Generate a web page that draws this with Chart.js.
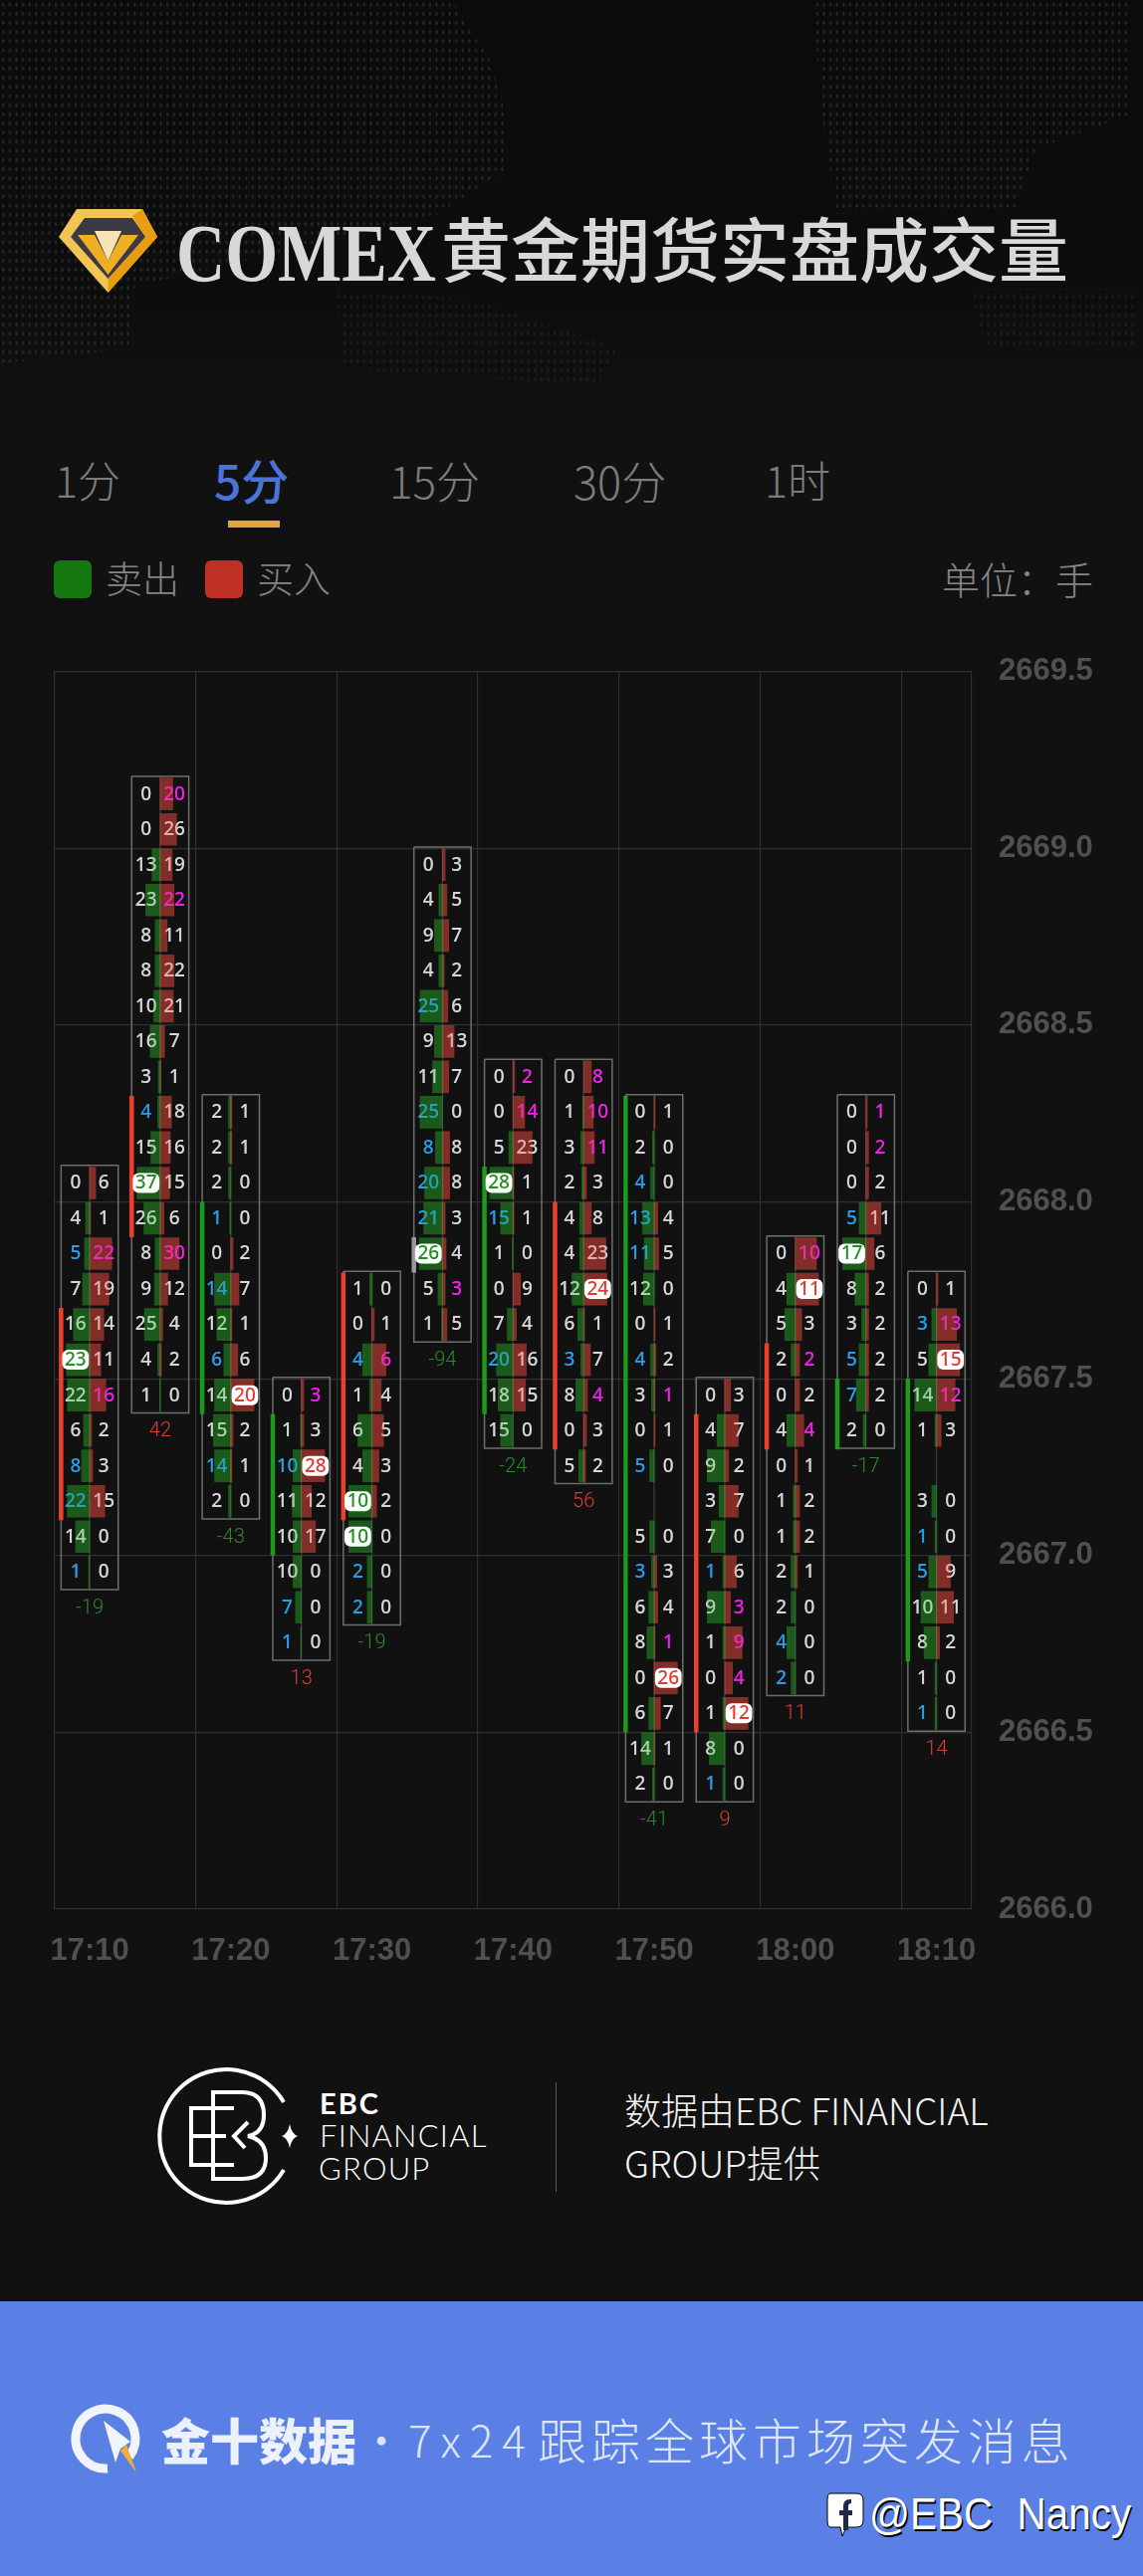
<!DOCTYPE html>
<html lang="zh">
<head>
<meta charset="utf-8">
<title>COMEX黄金期货实盘成交量</title>
<script src="https://cdn.jsdelivr.net/npm/chart.js@4/dist/chart.umd.min.js"></script>
<style>
html,body{margin:0;padding:0;background:#111;}
#page{position:relative;width:1148px;height:2588px;overflow:hidden;background:#111;font-family:"Noto Sans CJK SC","Noto Sans",sans-serif;}
#page>*{position:absolute;}
.t{white-space:nowrap;line-height:1;}
#topShade{left:0;top:0;width:1148px;height:420px;background:linear-gradient(#0b0b0b 0,#0d0d0d 300px,#111 415px);}
.dots{left:0;top:0;width:1148px;height:420px;background-image:radial-gradient(ellipse 1.3px 2.6px at 50% 50%,#383838 0,#2e2e2e 60%,transparent 100%);background-size:6.6px 9.2px;}
#chart{left:0;top:629px;}
</style>
</head>
<body>
<div id="page">
  <div id="topShade"></div>
  <div class="dots" style="clip-path:polygon(0 0,455px 0,492px 60px,505px 100px,510px 170px,440px 215px,130px 290px,130px 350px,0 365px);opacity:.8"></div>
  <div class="dots" style="clip-path:polygon(816px 0,1135px 0,1135px 115px,1040px 150px,1020px 210px,840px 215px,825px 110px);opacity:.8"></div>
  <div class="dots" style="clip-path:polygon(337px 290px,470px 300px,622px 350px,600px 388px,345px 370px);opacity:.45"></div>
  <div class="dots" style="clip-path:polygon(974px 290px,1142px 290px,1142px 350px,990px 350px);opacity:.45"></div>

  <svg style="left:0;top:0" width="200" height="320" viewBox="0 0 200 320">
    <polygon points="77,210 143,210 158,238 108.5,294 59,238" fill="#f2c453"/>
    <polygon points="143,210 158,238 108.5,294 108.5,280 146,238 133,217" fill="#e79c12"/>
    <polygon points="85,219 133,219 146,238 108.5,280 71,238" fill="#3a3a44"/>
    <polygon points="78,236 95,236 108.5,262 122,236 139,236 108.5,276" fill="#f0ae25"/>
    <polygon points="95,232 122,232 108.5,262" fill="#f7e3b4"/>
  </svg>
  <div class="t" style="left:177px;top:213px;font:700 83px/1 'Liberation Serif',serif;color:#d8d8d8;transform-origin:0 0;transform:scaleX(.82)">COMEX</div>
  <div class="t" style="left:443px;top:213px;font-size:70px;font-weight:500;color:#d8d8d8;">黄金期货实盘成交量</div>

  <div class="t" style="left:55px;top:460px;font-size:43px;font-weight:300;color:#7c7c7c">1分</div>
  <div class="t" style="left:215px;top:457px;font-size:48px;font-weight:500;color:#4a74d8">5分</div>
  <div class="t" style="left:391px;top:460px;font-size:44px;font-weight:300;color:#7c7c7c">15分</div>
  <div class="t" style="left:576px;top:460px;font-size:45px;font-weight:300;color:#7c7c7c">30分</div>
  <div class="t" style="left:768px;top:460px;font-size:43px;font-weight:300;color:#7c7c7c">1时</div>
  <div style="left:229px;top:523px;width:52px;height:7px;background:#e2a63c"></div>

  <div style="left:54px;top:563px;width:38px;height:38px;border-radius:6px;background:#14780f"></div>
  <div class="t" style="left:106px;top:562px;font-size:37px;font-weight:300;color:#858585">卖出</div>
  <div style="left:206px;top:563px;width:38px;height:38px;border-radius:6px;background:#bf3125"></div>
  <div class="t" style="left:258px;top:562px;font-size:37px;font-weight:300;color:#858585">买入</div>
  <div class="t" style="left:946px;top:562px;font-size:38px;font-weight:300;color:#858585">单位：手</div>

  <canvas id="chart" width="1148" height="1371"></canvas>

  <svg style="left:3px;top:2060px" width="320" height="170" viewBox="0 2060 320 170" fill="none" stroke="#fff" stroke-width="4">
    <path d="M282 2112 A67 67 0 1 0 282 2180"/>
    <path d="M232 2118 H189 V2175 H232"/>
    <path d="M189 2146 H224"/>
    <path d="M211 2102 H240 Q262 2102 262 2125 Q262 2143 246 2146 Q264 2150 264 2168 Q264 2189 240 2189 H211 Z"/>
    <path d="M246 2132 L232 2146 L243 2158"/>
    <path d="M288 2134 Q290 2144 296 2146 Q290 2148 288 2158 Q286 2148 280 2146 Q286 2144 288 2134 Z" fill="#fff" stroke="none"/>
  </svg>
  <div class="t" style="left:321px;top:2098px;font:700 29px/1 'Lato',sans-serif;color:#fff;letter-spacing:2px">EBC</div>
  <div class="t" style="left:321px;top:2130px;font:300 31px/1 'Lato',sans-serif;color:#fff;letter-spacing:1.2px">FINANCIAL</div>
  <div class="t" style="left:320px;top:2163px;font:300 31px/1 'Lato',sans-serif;color:#fff;letter-spacing:1.2px">GROUP</div>
  <div style="left:558px;top:2092px;width:1px;height:110px;background:#5a5a5a"></div>
  <div class="t" style="left:627px;top:2101px;font-size:37px;font-weight:300;color:#f2f2f2">数据由EBC FINANCIAL</div>
  <div class="t" style="left:627px;top:2154px;font-size:37px;font-weight:300;color:#f2f2f2">GROUP提供</div>

  <div style="left:0;top:2312px;width:1148px;height:276px;background:#5a80e6"></div>
  <svg style="left:60px;top:2405px" width="90" height="90" viewBox="60 2405 90 90">
    <path d="M130 2468 A30 30 0 1 0 108 2480" fill="none" stroke="#f2f4fb" stroke-width="9"/>
    <polygon points="104,2432 131,2453 121,2460 116,2474" fill="#f2f4fb"/>
    <polygon points="121,2462 127,2456 137,2484" fill="#efb13a"/>
  </svg>
  <div class="t" style="left:162px;top:2425px;font-size:49px;font-weight:900;color:#edf1fc">金十数据</div>
  <div class="t" style="left:360px;top:2426px;font-size:46px;font-weight:300;color:#dde5fa">·</div>
  <div class="t" style="left:410px;top:2428px;font-size:44px;font-weight:300;color:#dde5fa;letter-spacing:9px">7x24</div>
  <div class="t" id="tag" style="left:540px;top:2425px;width:535px;display:flex;justify-content:space-between;font-size:49px;font-weight:300;color:#dde5fa"><span>跟</span><span>踪</span><span>全</span><span>球</span><span>市</span><span>场</span><span>突</span><span>发</span><span>消</span><span>息</span></div>

  <svg style="left:826px;top:2500px" width="46" height="54" viewBox="0 0 46 54">
    <path d="M8 5 H34 Q41 5 41 12 V32 Q41 39 34 39 H24 L20 48 L18 39 H8 Q5 39 5 32 V12 Q5 5 8 5 Z" fill="#fff" stroke="#000" stroke-width="1"/>
    <path d="M29 11 Q21 10 21 18 V22 H17 V27 H21 V42 H26 V27 H30 V22 H26 V18 Q26 15 29 15 Z" fill="#1d2a4a"/>
  </svg>
  <div class="t" style="left:873px;top:2504px;font:400 44px/1 'Liberation Sans',sans-serif;color:#fff;text-shadow:1.5px 1.5px 0 #000;word-spacing:14px;transform-origin:0 0;transform:scaleX(.92)">@EBC Nancy</div>
</div>

<script>
// ---- Chart values ----
const categories = ["17:10","17:15","17:20","17:25","17:30","17:35","17:40","17:45","17:50","17:55","18:00","18:05","18:10"];
const priceTicks = { min: 2666, max: 2669.5, step: 0.5 };
const rowStep = 0.1;

// price at the top edge of each candle's highest row
const topPrice = [2668.1,2669.2,2668.3,2667.5,2667.8,2669.0,2668.4,2668.4,2668.3,2667.5,2667.9,2668.3,2667.8];

// sell / buy volume per row, top row first (null = empty row)
const sell1710 = [0,4,5,7,16,23,22,6,8,22,14,1];
const buy1710  = [6,1,22,19,14,11,16,2,3,15,0,0];
const sell1715 = [0,0,13,23,8,8,10,16,3,4,15,37,26,8,9,25,4,1];
const buy1715  = [20,26,19,22,11,22,21,7,1,18,16,15,6,30,12,4,2,0];
const sell1720 = [2,2,2,1,0,14,12,6,14,15,14,2];
const buy1720  = [1,1,0,0,2,7,1,6,20,2,1,0];
const sell1725 = [0,1,10,11,10,10,7,1];
const buy1725  = [3,3,28,12,17,0,0,0];
const sell1730 = [1,0,4,1,6,4,10,10,2,2];
const buy1730  = [0,1,6,4,5,3,2,0,0,0];
const sell1735 = [0,4,9,4,25,9,11,25,8,20,21,26,5,1];
const buy1735  = [3,5,7,2,6,13,7,0,8,8,3,4,3,5];
const sell1740 = [0,0,5,28,15,1,0,7,20,18,15];
const buy1740  = [2,14,23,1,1,0,9,4,16,15,0];
const sell1745 = [0,1,3,2,4,4,12,6,3,8,0,5];
const buy1745  = [8,10,11,3,8,23,24,1,7,4,3,2];
const sell1750 = [0,2,4,13,11,12,0,4,3,0,5,null,5,3,6,8,0,6,14,2];
const buy1750  = [1,0,0,4,5,0,1,2,1,1,0,null,0,3,4,1,26,7,1,0];
const sell1755 = [0,4,9,3,7,1,9,1,0,1,8,1];
const buy1755  = [3,7,2,7,0,6,3,9,4,12,0,0];
const sell1800 = [0,4,5,2,0,4,0,1,1,2,2,4,2];
const buy1800  = [10,11,3,2,2,4,1,2,2,1,0,0,0];
const sell1805 = [0,0,0,5,17,8,3,5,7,2];
const buy1805  = [1,2,2,11,6,2,2,2,2,0];
const sell1810 = [0,3,5,14,1,null,3,1,5,10,8,1,1];
const buy1810  = [1,13,15,12,3,null,0,0,9,11,2,0,0];

const sellRows = [sell1710,sell1715,sell1720,sell1725,sell1730,sell1735,sell1740,sell1745,sell1750,sell1755,sell1800,sell1805,sell1810];
const buyRows  = [buy1710,buy1715,buy1720,buy1725,buy1730,buy1735,buy1740,buy1745,buy1750,buy1755,buy1800,buy1805,buy1810];

// row indexes of the coloured numbers
const sellBlue   = [[2,8,9,11],[9],[3,5,7,10],[2,6,7],[2,8,9],[4,7,8,9,10],[4,8],[8],[2,3,4,7,10,13],[5,11],[11,12],[3,7,8],[1,7,8,12]];
const buyMagenta = [[2,6],[0,3,13],[],[0],[2],[12],[0,1],[0,1,2,9],[8,15],[6,7,8],[0,3,5],[0,1],[1,3]];
const sellBadge  = [[5],[11],[],[],[6,7],[11],[3],[],[],[],[],[4],[]];
const buyBadge   = [[],[],[8],[2],[],[],[],[6],[16],[9],[1],[],[2]];

// candle body (open/close range on the left edge of the box); direction 1 up, -1 down, 0 flat
const bodyHigh = [2667.7,2668.3,2668.0,2667.4,2667.8,2667.9,2668.1,2668.0,2668.3,2667.4,2667.6,2667.5,2667.5];
const bodyLow  = [2667.1,2667.9,2667.4,2667.0,2667.1,2667.8,2667.4,2667.3,2666.5,2666.5,2667.3,2667.3,2666.7];
const bodyDir  = [1,1,-1,-1,1,0,-1,1,-1,1,1,-1,-1];
const delta    = [-19,42,-43,13,-19,-94,-24,56,-41,9,11,-17,14];

// ---- Styling ----
const UP='#ee3f2d', DOWN='#1c9a1c', FLAT='#9a9a9a';
const NUDGE=0.0035;               // the reference drew its rows slightly above the grid
const HALF_BOX=0.405, COL=0.2, MAX_BAR=0.329, ACCENT_X=0.405;
const sellBarColor='rgba(40,180,40,.45)', buyBarColor='rgba(243,73,63,.5)';
const rowFont="500 19px 'Noto Sans', sans-serif", badgeFont="500 19px 'Noto Sans', sans-serif", deltaFont='300 20px Roboto, sans-serif';

function bars(side){
  const out=[];
  sellRows.forEach((col,i)=>{
    const maxV=Math.max(...col.filter(v=>v!=null),...buyRows[i].filter(v=>v!=null));
    const src = side==='sell'?col:buyRows[i];
    src.forEach((v,r)=>{
      if(!v) return;
      const w=v/maxV*MAX_BAR, y=topPrice[i]-rowStep*(r+.5)+NUDGE;
      out.push({x: side==='sell'?[i-w,i]:[i,i+w], y});
    });
  });
  return out;
}
const lineDs=(data,color,width,order)=>({type:'line',data,borderColor:color,borderWidth:width,pointRadius:0,
  order,xAxisID:'x',yAxisID:'y',tension:0,fill:false,borderCapStyle:'butt',borderJoinStyle:'miter',parsing:{xAxisKey:'x',yAxisKey:'y'}});

const datasets=[];
categories.forEach((_,i)=>{
  const hi=topPrice[i]+NUDGE, lo=topPrice[i]-rowStep*sellRows[i].length+NUDGE;
  datasets.push(lineDs([{x:i,y:hi},{x:i,y:lo}],'#383838',1.5,5));
  datasets.push(lineDs([{x:i-HALF_BOX,y:hi},{x:i+HALF_BOX,y:hi},{x:i+HALF_BOX,y:lo},{x:i-HALF_BOX,y:lo},{x:i-HALF_BOX,y:hi}],'#6e6e6e',1.5,4));
  const col=bodyDir[i]===0?FLAT:(bodyDir[i]>0?UP:DOWN);
  datasets.push(lineDs([{x:i-ACCENT_X,y:bodyHigh[i]},{x:i-ACCENT_X,y:bodyLow[i]}],col,4.5,1));
});
const barOpts={type:'bar',indexAxis:'y',xAxisID:'x',yAxisID:'y',barThickness:32,grouped:false,borderWidth:0,borderSkipped:false,order:2};
datasets.push({...barOpts,label:'卖出',data:bars('sell'),backgroundColor:sellBarColor});
datasets.push({...barOpts,label:'买入',data:bars('buy'),backgroundColor:buyBarColor});

const rowText={
  id:'rowText',
  beforeDatasetsDraw(chart){ drawCells(chart,'under'); },
  afterDatasetsDraw(chart){
    drawCells(chart,'over');   // partly brightens the numbers the bars have tinted
    drawCells(chart,'badge');
    const {ctx,scales:{x,y}}=chart;
    ctx.save();
    ctx.font=deltaFont; ctx.textAlign='center'; ctx.textBaseline='middle';
    delta.forEach((d,i)=>{
      const lo=topPrice[i]-rowStep*sellRows[i].length;
      ctx.fillStyle=d>0?'#d8402f':'#2b8a2b';
      ctx.fillText(String(d),x.getPixelForValue(i),y.getPixelForValue(lo)+17.5);
    });
    ctx.restore();
  }
};
function drawCells(chart,pass){
  const {ctx,scales:{x,y}}=chart;
  ctx.save();
  ctx.font=pass==='badge'?badgeFont:rowFont; ctx.textAlign='center'; ctx.textBaseline='middle';
  categories.forEach((_,i)=>{
    const rows=sellRows[i].length;
    for(let r=0;r<rows;r++){
      const py=y.getPixelForValue(topPrice[i]-rowStep*(r+.5)+NUDGE);
      [['s',sellRows[i][r],i-COL],['b',buyRows[i][r],i+COL]].forEach(([s,v,xv])=>{
        if(v==null) return;
        const isBadge=(s==='s'?sellBadge:buyBadge)[i].includes(r);
        const px=x.getPixelForValue(xv), str=String(v);
        if(isBadge){
          if(pass!=='badge') return;
          const w=ctx.measureText(str).width+5;
          ctx.fillStyle='#fff';
          ctx.beginPath(); ctx.roundRect(px-w/2,py-10,w,20,6); ctx.fill();
          ctx.fillStyle=s==='s'?'#1f8f1f':'#e03a2e';
          ctx.fillText(str,px,py+.5);
        }else if(pass!=='badge'){
          const blue=s==='s'&&sellBlue[i].includes(r), mag=s==='b'&&buyMagenta[i].includes(r);
          ctx.globalAlpha=pass==='over'?.45:1;
          ctx.fillStyle=blue?'#2a9de6':mag?'#ee22e6':'#d6d6d6';
          ctx.fillText(str,px,py+.5);
          ctx.globalAlpha=1;
        }
      });
    }
  });
  ctx.restore();
}

const axisFont={family:"'Liberation Sans',sans-serif",size:31,weight:'700'};
new Chart(document.getElementById('chart').getContext('2d'),{
  type:'bar',
  data:{labels:categories,datasets},
  plugins:[rowText],
  options:{
    responsive:false,animation:false,devicePixelRatio:1,
    layout:{padding:{left:54.6,top:35,right:0,bottom:0}},
    plugins:{legend:{display:false},tooltip:{enabled:false},title:{display:false}},
    events:[],
    scales:{
      x:{type:'linear',display:false,min:-0.5,max:categories.length-0.5,offset:false,grid:{offset:false,display:false}},
      xTime:{type:'category',axis:'x',position:'bottom',labels:categories,offset:true,
        grid:{offset:true,drawTicks:false,color:c=>(c.index===undefined||c.index%2===0)?'#303030':'rgba(0,0,0,0)',lineWidth:1.2},
        border:{display:false},
        afterFit(s){s.height=82;},
        ticks:{autoSkip:false,maxRotation:0,minRotation:0,padding:24,color:'#505050',font:axisFont,
          callback(v,i){return i%2===0?categories[i]:'';}}},
      y:{type:'linear',position:'right',min:priceTicks.min,max:priceTicks.max,offset:false,
        grid:{offset:false,drawTicks:false,color:'#303030',lineWidth:1.2},
        border:{display:false},
        afterFit(s){s.width=172;},
        ticks:{stepSize:priceTicks.step,padding:27,color:'#505050',font:axisFont,
          callback(v){return Number(v).toFixed(1);}}}
    }
  }
});
</script>
</body>
</html>
